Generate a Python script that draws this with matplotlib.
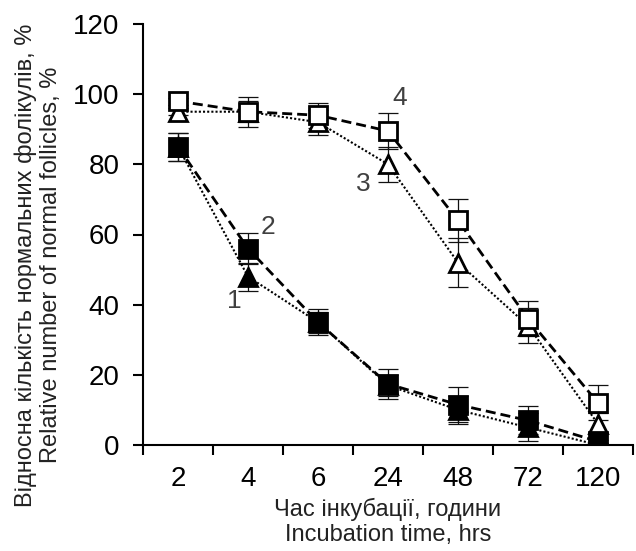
import matplotlib
matplotlib.use("Agg")
import matplotlib.pyplot as plt

plt.rcParams['font.family'] = ['Liberation Sans', 'DejaVu Sans']

# incubation time categories
times = ["2", "4", "6", "24", "48", "72", "120"]

# relative number of normal follicles, %
s1 = [85, 48, 35, 17, 10, 5, 0]          # 1 - filled triangle, dotted
s1_err = [4, 4, 3, 3, 4, 4, 0.5]
s2 = [85, 56, 35, 17.4, 11.5, 7, 1]      # 2 - filled square, dashed
s2_err = [4, 4.5, 3.7, 4.2, 5, 4, 0.5]
s3 = [95, 95, 92, 80, 52, 34, 6]         # 3 - open triangle, dotted
s3_err = [1, 3, 3.5, 5, 7, 5, 3]
s4 = [98, 95, 94, 89.5, 64, 36, 12]      # 4 - open square, dashed
s4_err = [1, 4.3, 3.6, 5, 6, 5, 5]

x = list(range(len(times)))

fig = plt.figure(figsize=(6.36, 5.51), dpi=100)
ax = fig.add_axes([143 / 636, 1 - 445 / 551, 490 / 636, 421 / 551])

series = [
    (s3, s3_err, '^', 'white', (0, (1, 1)), 1.5),
    (s4, s4_err, 's', 'white', (0, (3.6, 1.8)), 2.0),
    (s1, s1_err, '^', 'black', (0, (1, 1)), 1.5),
    (s2, s2_err, 's', 'black', (0, (3.6, 1.8)), 2.0),
]

for vals, errs, mk, fc, ls, lw in series:
    ax.errorbar(x, vals, yerr=errs, fmt='none', ecolor='#111111', elinewidth=0.9,
                capsize=7, capthick=0.9, zorder=2)
    ax.plot(x, vals, color='black', linestyle=ls, linewidth=lw, zorder=3)
    ax.plot(x, vals, linestyle='none', marker=mk, markersize=13,
            markerfacecolor=fc, markeredgecolor='black', markeredgewidth=2.0,
            zorder=4)

# curve numbers
lbl = '#404040'
ax.text(0.81, 41, "1", fontsize=19, color=lbl, ha='center', va='center')
ax.text(1.28, 62, "2", fontsize=19, color=lbl, ha='center', va='center')
ax.text(2.64, 74.5, "3", fontsize=19, color=lbl, ha='center', va='center')
ax.text(3.16, 99, "4", fontsize=19, color=lbl, ha='center', va='center')

ax.set_xlim(-0.5, len(times) - 0.5)
ax.set_ylim(0, 120)
ax.set_yticks(range(0, 121, 20))
ax.set_xticks([i - 0.5 for i in range(len(times) + 1)])
ax.set_xticklabels([])
ax.set_xticks(x, minor=True)
ax.set_xticklabels(times, minor=True)

ax.tick_params(axis='x', which='major', direction='out', length=7, width=1.5)
ax.tick_params(axis='x', which='minor', length=0, pad=15, labelsize=20)
ax.tick_params(axis='y', direction='out', length=7, width=1.5, pad=10,
               labelsize=20)

for side in ['top', 'right']:
    ax.spines[side].set_visible(False)
for side in ['left', 'bottom']:
    ax.spines[side].set_linewidth(1.5)

ax.set_xlabel("Час інкубації, години\nIncubation time, hrs", fontsize=17,
              color='#222222', labelpad=4)

fig.text(38 / 636, 1 - 265 / 551,
         "Відносна кількість нормальних фолікулів, %\nRelative number of normal follicles, %",
         rotation=90, fontsize=17, color='#222222', ha='center', va='center',
         multialignment='center')

fig.savefig("out.png", dpi=100)
